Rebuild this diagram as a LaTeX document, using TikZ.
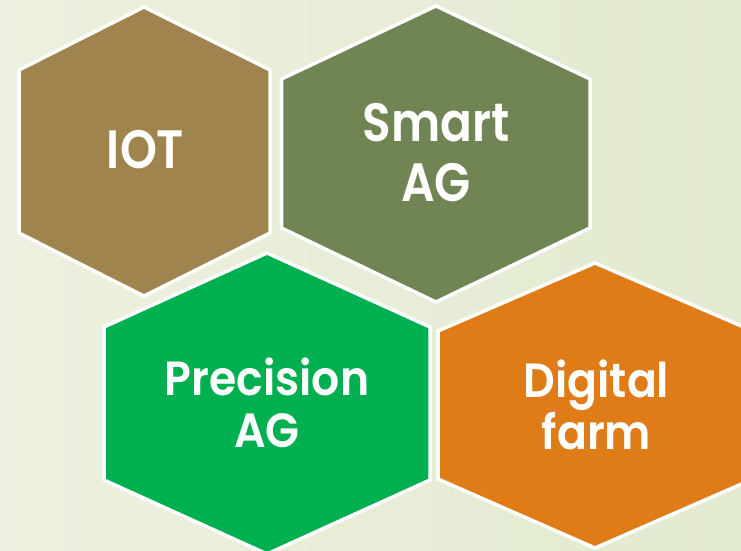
\documentclass[tikz,border=0pt]{standalone}
\usepackage{fontspec}
\setmainfont{Poppins}[FakeStretch=0.87, BoldFont={Poppins SemiBold}]
\newfontfamily\lblwidefont{Poppins SemiBold}[FakeStretch=0.92]
\definecolor{bgleft}{RGB}{237,240,222}
\definecolor{bgright}{RGB}{226,234,208}
\definecolor{iotc}{RGB}{160,132,78}
\definecolor{smartc}{RGB}{113,133,84}
\definecolor{precc}{RGB}{0,175,80}
\definecolor{digc}{RGB}{223,124,24}
\tikzset{
  hexa/.style={draw=white, line width=3.5pt, line join=miter},
  lbl/.style={text=white, font=\bfseries\fontsize{54}{60}\selectfont, align=center, inner sep=0pt},
  lblsmall/.style={lbl, font=\lblwidefont\fontsize{48}{52}\selectfont}
}
\begin{document}
\begin{tikzpicture}[x=1pt,y=-1pt]
\useasboundingbox (0,0) rectangle (741,551);
\clip (0,0) rectangle (741,551);
\shade[left color=bgleft, right color=bgright] (0,0) rectangle (741,551);
% IOT
\path[hexa, fill=iotc] (144,7) -- (270,70) -- (270,233) -- (144,296) -- (19,233) -- (19,70) -- cycle;
% Smart AG
\path[hexa, fill=smartc] (436,6) -- (590,79) -- (590,228) -- (436,302) -- (281.5,228) -- (281.5,79) -- cycle;
% Precision AG
\path[hexa, fill=precc] (267,253) -- (430,327) -- (430,480) -- (267,554) -- (104,480) -- (104,327) -- cycle;
% Digital farm
\path[hexa, fill=digc] (595,263) -- (753,331) -- (753,479) -- (595,548) -- (438,479) -- (438,331) -- cycle;
\node[lbl] (iot) at (145.5,150) {IOT};
\node[lbl] (smart) at (436,152.5) {Smart\\AG};
\node[lblsmall] (prec) at (267,402.5) {Precision\\AG};
\node[lblsmall] (dig) at (596.5,405) {Digital\\farm};
\end{tikzpicture}
\end{document}
